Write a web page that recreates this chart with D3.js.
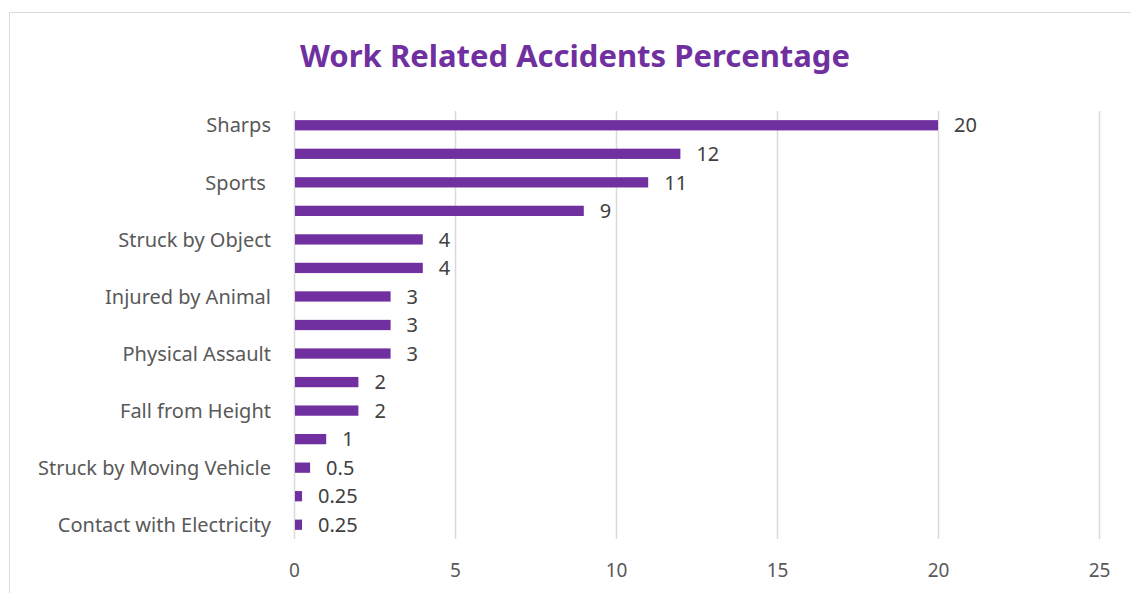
<!DOCTYPE html>
<html>
<head>
<meta charset="utf-8">
<script src="https://cdn.jsdelivr.net/npm/d3@7"></script>
<style>
  html, body { margin: 0; padding: 0; background: #ffffff; }
  svg { display: block; }
</style>
</head>
<body>
<svg id="chart" width="1131" height="593"></svg>
<script>
// Category labels (only every other one is printed on the axis)
const categories = [
  "Sharps", "", "Sports ", "", "Struck by Object", "", "Injured by Animal", "",
  "Physical Assault", "", "Fall from Height", "", "Struck by Moving Vehicle", "",
  "Contact with Electricity"
];
// Percentage of accidents per category
const values = [20, 12, 11, 9, 4, 4, 3, 3, 3, 2, 2, 1, 0.5, 0.25, 0.25];
// Value-axis ticks
const xTicks = [0, 5, 10, 15, 20, 25];

const svg = d3.select("#chart");
const W = 1131, H = 593;
const fontFamily = "'Noto Sans', 'Open Sans', sans-serif";
const purple = "#7030A0";

// Chart frame
svg.append("rect")
  .attr("x", 9.5).attr("y", 12.5)
  .attr("width", W + 20).attr("height", H + 20)
  .attr("fill", "#fff").attr("stroke", "#d9d9d9").attr("stroke-width", 1);

// Title
svg.append("text")
  .attr("x", 575).attr("y", 67)
  .attr("text-anchor", "middle")
  .attr("font-family", fontFamily)
  .attr("font-weight", "bold")
  .attr("font-size", 31)
  .attr("fill", purple)
  .text("Work Related Accidents Percentage");

const plot = { left: 294, right: 1099, top: 111, bottom: 539 };

const x = d3.scaleLinear().domain([0, 25]).range([plot.left, plot.right]);
const y = d3.scaleBand()
  .domain(d3.range(categories.length))
  .range([plot.top, plot.bottom])
  .paddingInner(0.64).paddingOuter(0.32);

// Vertical gridlines
svg.append("g")
  .selectAll("line")
  .data(xTicks.filter(t => t > 0))
  .join("line")
  .attr("x1", d => Math.round(x(d)) + 0.5).attr("x2", d => Math.round(x(d)) + 0.5)
  .attr("y1", plot.top).attr("y2", plot.bottom)
  .attr("stroke", "#d9d9d9").attr("stroke-width", 1.5);

// Category axis line
svg.append("line")
  .attr("x1", plot.left + 0.5).attr("x2", plot.left + 0.5)
  .attr("y1", plot.top).attr("y2", plot.bottom)
  .attr("stroke", "#d9d9d9").attr("stroke-width", 1.5);

// Bars
svg.append("g")
  .selectAll("rect")
  .data(values)
  .join("rect")
  .attr("x", x(0) + 1)
  .attr("y", (d, i) => y(i))
  .attr("width", d => x(d) - x(0) - 1)
  .attr("height", y.bandwidth())
  .attr("fill", purple);

// Value labels
svg.append("g")
  .selectAll("text")
  .data(values)
  .join("text")
  .attr("x", d => x(d) + 16)
  .attr("y", (d, i) => y(i) + y.bandwidth() / 2)
  .attr("dy", "0.36em")
  .attr("font-family", fontFamily)
  .attr("font-size", 20)
  .attr("fill", "#404040")
  .text(d => d);

// Category labels
svg.append("g")
  .selectAll("text")
  .data(categories)
  .join("text")
  .attr("x", 271)
  .attr("y", (d, i) => y(i) + y.bandwidth() / 2)
  .attr("dy", "0.36em")
  .attr("text-anchor", "end")
  .attr("font-family", fontFamily)
  .attr("font-size", 20)
  .attr("fill", "#595959")
  .attr("xml:space", "preserve")
  .style("white-space", "pre")
  .text(d => d);

// Value axis tick labels
const xAxis = d3.axisBottom(x).tickValues(xTicks).tickSize(0).tickPadding(0);
const gx = svg.append("g")
  .attr("transform", `translate(0, 570)`)
  .call(xAxis);
gx.select(".domain").remove();
gx.selectAll("text")
  .attr("dy", "0.36em")
  .attr("y", 0)
  .attr("font-family", fontFamily)
  .attr("font-size", 19)
  .attr("fill", "#595959");
</script>
</body>
</html>
